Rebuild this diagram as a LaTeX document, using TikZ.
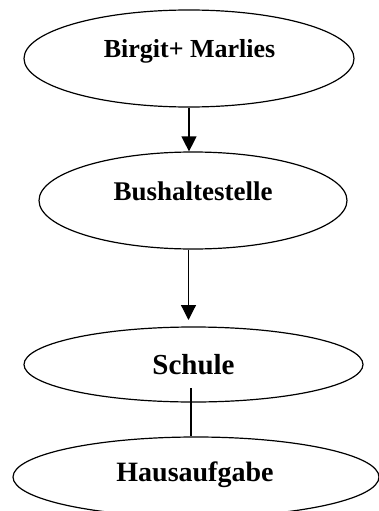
\documentclass[tikz,border=0pt]{standalone}
\usepackage{fontspec}
\setmainfont{Liberation Serif}
\usetikzlibrary{shapes.geometric,arrows.meta}
\tikzset{
  oval/.style={ellipse, draw=black, line width=1.2pt, inner sep=0pt},
  lbl/.style={anchor=base, inner sep=0pt, font=\bfseries},
  conn/.style={line width=1.2pt, draw=black},
  arr/.style={conn, -{Triangle[width=15pt,length=15pt]}}
}
\begin{document}
\begin{tikzpicture}[x=1pt,y=-1pt]
\useasboundingbox (0,0) rectangle (378,511);
\node[oval, minimum width=330pt, minimum height=97pt] (e1) at (189,58.5) {};
\node[oval, minimum width=308pt, minimum height=97pt] (e2) at (193,200.5) {};
\node[oval, minimum width=339pt, minimum height=75pt] (e3) at (193.5,364.5) {};
\node[oval, minimum width=366pt, minimum height=80pt] (e4) at (196,477) {};
\node[lbl, font=\bfseries\fontsize{26}{30}\selectfont] (t1) at (189.5,58) {Birgit+ Marlies};
\node[lbl, font=\bfseries\fontsize{27}{31}\selectfont] (t2) at (193,200) {Bushaltestelle};
\node[lbl, font=\bfseries\fontsize{29}{33}\selectfont] (t3) at (193.5,374) {Schule};
\node[lbl, font=\bfseries\fontsize{28}{32}\selectfont] (t4) at (195,481.5) {Hausaufgabe};
\coordinate (a2end) at (188.5,320);
\coordinate (l3start) at (191,388);
\draw[arr] (e1.south) -- (e1.south |- e2.north);
\draw[arr] (e2.south -| a2end) -- (a2end);
\draw[conn] (l3start) -- (l3start |- e4.north);
\end{tikzpicture}
\end{document}
